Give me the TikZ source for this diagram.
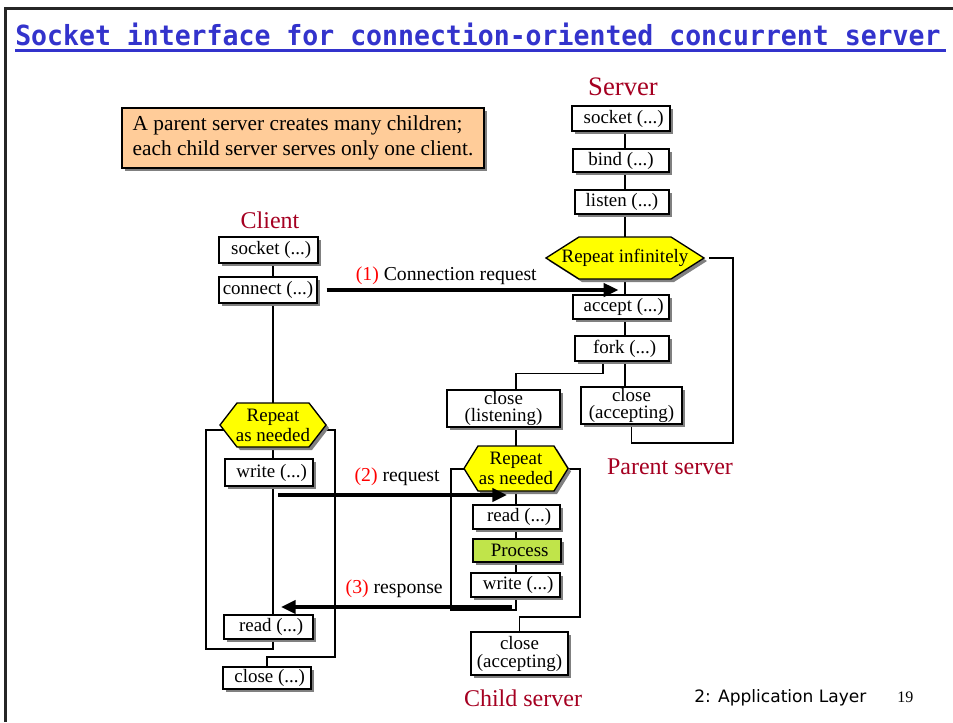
\documentclass[tikz,border=0pt]{standalone}
\usepackage{fontspec}
\setmainfont{Liberation Serif}
\newfontfamily\titlefont{DejaVu Sans Mono}
\newfontfamily\footfont{DejaVu Sans}
\usetikzlibrary{arrows.meta,shadows,calc}
\definecolor{titleblue}{RGB}{51,51,204}
\definecolor{rolered}{RGB}{165,0,33}
\definecolor{notefill}{RGB}{255,204,153}
\definecolor{hexfill}{RGB}{255,255,0}
\definecolor{procfill}{RGB}{192,228,74}
\pgfdeclarelayer{wires}
\pgfsetlayers{wires,main}

\tikzset{
  boxtext/.style={font=\fontsize{14.2}{14.2}\selectfont},
  callbox/.style={draw, line width=1pt, fill=white, inner sep=0pt, align=center, boxtext,
    general shadow={fill=black!50, shadow xshift=2.25pt, shadow yshift=-2.25pt}},
  wire/.style={line width=0.9pt},
  msg/.style={line width=2.4pt, -{Triangle[length=11pt,width=10pt]}},
  role/.style={text=rolered, font=\fontsize{18}{18}\selectfont},
  hexshape/.style={draw, line width=1pt, fill=hexfill},
  hexshadow/.style={fill=black!50},
  msglabel/.style={font=\fontsize{14.8}{14.8}\selectfont, inner sep=0pt}
}

% [extra style]{name}{x1}{y1}{x2}{y2}{text}: framed call box given by its corners
\newcommand\callnode[7][]{%
  \node[callbox, #1, minimum width={(#5-#3)*0.75pt}, minimum height={(#6-#4)*0.75pt}]
    (#2) at ({(#3+#5)/2},{(#4+#6)/2}) {#7};}
% small lead-in that sets one-line calls a little right of centre
\newcommand\lead{\hspace*{4pt}}

% {name}{cx}{cy}{half width}{half height}{slant}{text}: hexagonal loop marker
\newcommand\repeathex[7]{%
  \fill[hexshadow, shift={(3,3)}] ({#2-#4},#3) -- ({#2-#4+#6},{#3-#5}) -- ({#2+#4-#6},{#3-#5})
    -- ({#2+#4},#3) -- ({#2+#4-#6},{#3+#5}) -- ({#2-#4+#6},{#3+#5}) -- cycle;
  \draw[hexshape] ({#2-#4},#3) -- ({#2-#4+#6},{#3-#5}) -- ({#2+#4-#6},{#3-#5})
    -- ({#2+#4},#3) -- ({#2+#4-#6},{#3+#5}) -- ({#2-#4+#6},{#3+#5}) -- cycle;
  \node[align=center, inner sep=0pt, font=\fontsize{14.2}{15}\selectfont,
    minimum width={2*#4*0.75pt}, minimum height={2*#5*0.75pt}] (#1) at (#2,#3) {#7};}

\begin{document}
\begin{tikzpicture}[x=0.75pt, y=-0.75pt]
\useasboundingbox (0,0) rectangle (953,722);

% slide frame and heading
\draw[line width=1.9pt, black!85] (5.5,722) -- (5.5,8.5) -- (953,8.5);
\node[anchor=base west, inner sep=0pt, text=titleblue] (title) at (15,45)
  {\resizebox{694pt}{16.9pt}{\titlefont\bfseries Socket interface for connection-oriented concurrent server}};
\draw[titleblue, line width=2.25pt] (15,50) -- (946,50);

% note
\callnode[fill=notefill, align=left, font=\fontsize{16}{18.75}\selectfont]{note}{122}{108}{484}{168}
  {A parent server creates many children;\\each child server serves only one client.}

% role captions
\node[role, font=\fontsize{20}{20}\selectfont] (srvlabel) at (623,87) {Server};
\node[role] (clilabel) at (270,220) {Client};
\node[role] (parlabel) at (670,467) {Parent server};
\node[role] (chlabel) at (523,698) {Child server};

% client
\callnode{csock}{219}{237}{318}{263}{\lead socket (...)}
\callnode{cconn}{219}{277}{317}{303}{connect (...)}
\repeathex{chex}{273}{425}{53}{22}{17}{Repeat\\as needed}
\callnode{cwrite}{225}{459}{313}{486}{\lead write (...)}
\callnode{cread}{224}{615}{313}{639}{\lead read (...)}
\callnode{cclose}{223}{667}{311}{689}{\lead close (...)}

% server (parent)
\callnode{ssock}{572}{106}{670}{131}{\lead socket (...)}
\callnode{sbind}{573}{149}{669}{172}{bind (...)}
\callnode{slist}{575}{190}{669}{214}{listen (...)}
\repeathex{shex}{625}{258}{79}{21}{33}{Repeat infinitely}
\callnode{saccept}{573}{295}{669}{319}{\lead accept (...)}
\callnode{sfork}{575}{336}{669}{361}{\lead fork (...)}
\callnode[font=\fontsize{14.2}{13.2}\selectfont]{pclose}{581}{387}{682}{424}{close\\(accepting)}

% child server
\callnode[font=\fontsize{14.2}{13}\selectfont]{lclose}{447}{390}{560}{427}{close\\(listening)}
\repeathex{khex}{516}{468.5}{52}{22.5}{14}{Repeat\\as needed}
\callnode{kread}{473}{505}{560}{529}{\lead read (...)}
\callnode[fill=procfill]{kproc}{473}{539}{561}{562}{\lead Process}
\callnode{kwrite}{471}{573}{560}{597}{\lead write (...)}
\callnode[font=\fontsize{14.2}{13.5}\selectfont]{kclose}{471}{632}{568}{675}{close\\(accepting)}

% loop corners and message ends
\coordinate (cLB) at (206,649);
\coordinate (cLT) at (206,430);
\coordinate (cRT) at (335,430);
\coordinate (cRB) at (335,657);
\coordinate (pBR) at (733,443);
\coordinate (kLB) at (451,610);
\coordinate (kLT) at (451,469);
\coordinate (kRT) at (580,469);
\coordinate (kRB) at (580,617);
\coordinate (reqA) at (278,495);
\coordinate (reqB) at (507,495);
\coordinate (respA) at (512,607);
\coordinate (respB) at (281,607);

\begin{pgfonlayer}{wires}
  % client flow
  \draw[wire] (csock.south -| chex.north) -- (cconn.north -| chex.north);
  \draw[wire] (cconn.south -| chex.north) -- (chex.north);
  \draw[wire] (chex.south) -- (cwrite.north -| chex.south);
  \draw[wire] (cwrite.south -| chex.south) -- (cread.north -| chex.south);
  \draw[wire] (cread.south -| chex.south) |- (cLB) -- (cLT) -- (cRT) -- (cRB) -| (cclose.north);

  % parent flow
  \draw[wire] (ssock.south -| shex.north) -- (sbind.north -| shex.north);
  \draw[wire] (sbind.south -| shex.north) -- (slist.north -| shex.north);
  \draw[wire] (slist.south -| shex.north) -- (shex.north);
  \draw[wire] (shex.south) -- (saccept.north -| shex.south);
  \draw[wire] (saccept.south -| shex.south) -- (sfork.north -| shex.south);
  \draw[wire] (sfork.south -| shex.south) -- (pclose.north -| shex.south);
  \draw[wire] ([xshift=-14.25pt]sfork.south) -- ++(0,12) -| (lclose.north -| khex.north);
  \draw[wire] ([xshift=3.75pt]shex.east) -| (pBR) -| (pclose.south);

  % child flow
  \draw[wire] (lclose.south -| khex.north) -- (khex.north);
  \draw[wire] (khex.south) -- (kread.north -| khex.south);
  \draw[wire] (kread.south -| khex.south) -- (kproc.north -| khex.south);
  \draw[wire] (kproc.south -| khex.south) -- (kwrite.north -| khex.south);
  \draw[wire] (kwrite.south -| khex.south) |- (kLB) -- (kLT) -- (kRT) -- (kRB) -| (kclose.north);
\end{pgfonlayer}

% messages
\draw[msg] ([xshift=6.75pt]cconn.east) -- ([xshift=-5pt]cconn.east -| shex.south)
  node[msglabel, pos=0.41, above=3pt] (m1) {\textcolor{red}{(1)} Connection request};
\draw[msg] (reqA) -- (reqB)
  node[msglabel, pos=0.52, above=6pt] (m2) {\textcolor{red}{(2)} request};
\draw[msg] (respA) -- (respB)
  node[msglabel, pos=0.51, above=6pt] (m3) {\textcolor{red}{(3)} response};

% footer
\node[anchor=base west, inner sep=0pt, font=\footfont\fontsize{12.8}{12.8}\selectfont] (foot) at (694,702) {2: Application Layer};
\node[anchor=base west, inner sep=0pt, font=\fontsize{12}{12}\selectfont] (pageno) at (897,702) {19};
\end{tikzpicture}
\end{document}
